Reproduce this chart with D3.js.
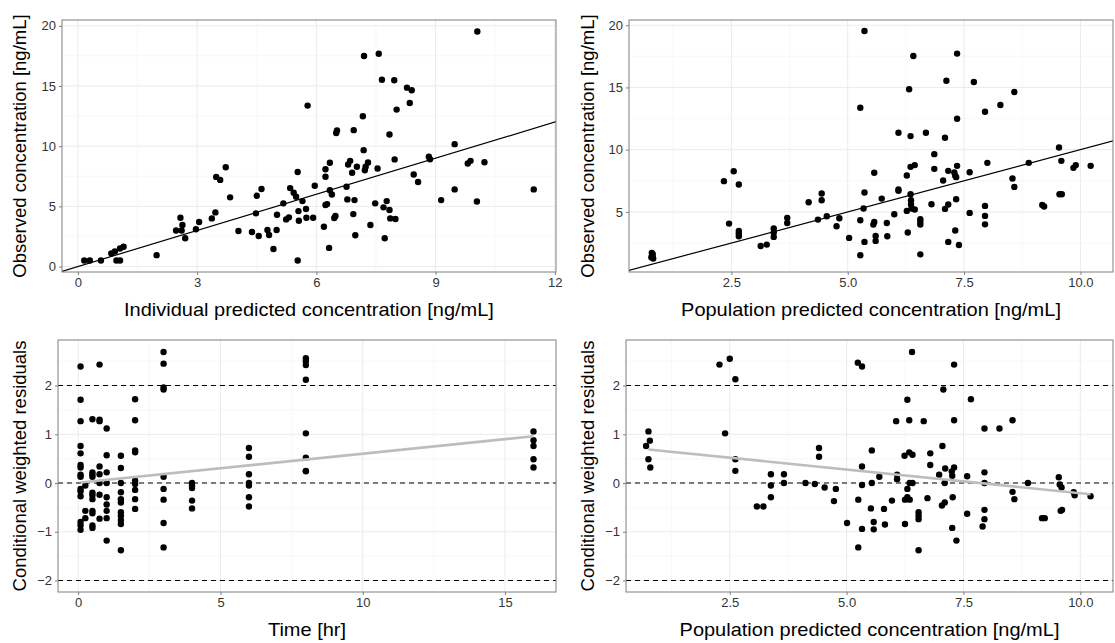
<!DOCTYPE html>
<html><head><meta charset="utf-8">
<script src="https://cdn.jsdelivr.net/npm/d3@7"></script>
<style>
body { margin: 0; background: #fff; }
svg { font-family: "Liberation Sans", Arial, sans-serif; }
.tick text { fill: #333; font-size: 13px; }
</style></head>
<body>
<svg id="chart" width="1115" height="643"></svg>
<script>
// top-left: individual predicted vs observed
const ipredX = [0.16,0.3,0.58,0.84,0.93,0.97,1.06,1.06,1.15,1.98,2.47,2.58,2.61,2.63,2.7,2.97,3.05,3.37,3.46,3.48,3.58,3.72,3.83,4.04,4.38,4.48,4.5,4.55,4.62,4.77,4.81,4.92,5.0,5.01,5.17,5.24,5.31,5.34,5.43,5.49,5.53,5.53,5.55,5.56,5.65,5.74,5.75,5.78,5.92,5.96,6.19,6.23,6.23,6.23,6.27,6.32,6.34,6.34,6.39,6.45,6.48,6.5,6.52,6.76,6.78,6.8,6.85,6.9,6.93,6.94,6.96,6.98,7.02,7.17,7.19,7.2,7.22,7.24,7.3,7.36,7.48,7.54,7.57,7.65,7.69,7.72,7.77,7.84,7.84,7.86,7.96,7.97,7.99,8.02,8.28,8.35,8.4,8.45,8.56,8.83,8.86,9.14,9.48,9.48,9.81,9.88,10.04,10.05,10.23,11.47];
const ipredY = [0.5,0.5,0.5,1.1,1.25,0.5,0.5,1.5,1.65,0.95,3.0,4.05,3.0,3.45,2.35,3.1,3.7,4.0,4.5,7.45,7.2,8.25,5.75,2.95,2.87,4.42,5.88,2.54,6.44,3.04,2.62,1.46,3.04,4.3,5.25,3.92,4.09,6.52,6.13,5.8,0.5,7.85,4.61,3.81,5.44,4.78,4.06,13.37,4.06,6.71,3.31,8.09,7.46,5.11,5.19,1.55,8.62,6.35,5.99,4.03,4.2,11.1,11.3,6.63,5.58,8.48,8.78,7.79,4.36,11.33,5.52,2.6,8.29,12.49,9.67,17.49,8.0,8.29,8.65,3.45,5.25,8.15,17.68,15.52,4.92,2.35,5.44,10.97,4.7,4.0,15.47,8.9,3.95,13.04,14.86,13.59,14.64,7.65,7.02,9.12,8.92,5.52,10.17,6.41,8.56,8.78,5.41,19.53,8.67,6.41];

// top-right: population predicted vs observed
const predX = [0.79,0.8,0.82,0.78,0.81,2.34,2.45,2.55,2.66,2.66,2.66,2.66,3.13,3.26,3.41,3.41,3.41,3.7,3.7,4.16,4.36,4.44,4.44,4.55,4.76,4.82,5.03,5.27,5.27,5.27,5.34,5.36,5.36,5.36,5.55,5.57,5.57,5.6,5.6,5.73,5.84,5.85,6.0,6.09,6.09,6.09,6.27,6.27,6.29,6.32,6.35,6.35,6.35,6.36,6.36,6.37,6.41,6.44,6.44,6.56,6.56,6.56,6.56,6.68,6.8,6.86,6.86,7.05,7.09,7.09,7.12,7.16,7.16,7.16,7.29,7.31,7.31,7.33,7.33,7.35,7.35,7.35,7.39,7.62,7.62,7.71,7.95,7.95,7.95,7.95,8.0,8.28,8.54,8.58,8.58,8.89,9.18,9.22,9.54,9.55,9.6,9.59,9.85,9.9,10.22];
const predY = [1.7,1.45,1.25,1.35,1.6,7.47,4.06,8.27,7.2,3.47,3.26,3.04,2.26,2.37,3.66,3.34,2.99,4.52,4.11,5.78,4.38,6.48,5.94,4.65,3.85,4.49,2.91,13.37,4.33,1.51,5.27,19.54,6.56,2.59,3.98,4.19,8.14,3.07,2.67,6.07,4.11,3.04,4.81,11.36,6.8,6.69,7.92,5.08,3.34,14.85,8.62,6.42,11.09,5.94,5.59,5.27,17.53,8.76,5.19,4.41,4.19,3.98,1.59,11.36,5.62,9.64,8.46,7.52,10.96,5.24,15.54,8.3,5.59,2.59,8.17,7.9,3.5,7.79,6.02,17.72,12.49,8.7,2.34,8.19,4.92,15.44,13.05,5.48,4.68,4.0,8.94,13.59,7.68,7.01,14.63,8.94,5.56,5.43,10.18,6.42,6.42,9.1,8.54,8.76,8.7];

// bottom-left: CWRES vs time
const timeX = [0.083,0.083,0.083,0.083,0.083,0.083,0.083,0.083,0.083,0.083,0.083,0.083,0.083,0.083,0.083,
  0.25,0.25,0.25,
  0.5,0.5,0.5,0.5,0.5,0.5,0.5,0.5,0.5,0.5,0.5,
  0.75,0.75,0.75,0.75,0.75,0.75,0.75,0.75,
  1,1,1,1,1,1,1,1,1,
  1.5,1.5,1.5,1.5,1.5,1.5,1.5,1.5,1.5,1.5,1.5,
  2,2,2,2,2,2,2,2,2,
  3,3,3,3,3,3,3,3,3,
  4,4,4,4,4,
  6,6,6,6,6,6,6,
  8,8,8,8,8,8,8,8,
  16,16,16,16,16];
const timeY = [2.39,1.71,1.27,0.76,0.61,0.37,0.32,0.17,0.13,-0.12,-0.17,-0.27,-0.8,-0.87,-0.96,
  -0.05,-0.57,-0.72,
  1.31,0.22,0.17,0.13,-0.2,-0.25,-0.33,-0.57,-0.62,-0.87,-0.92,
  2.43,1.3,1.27,0.34,0.18,0,-0.24,-0.73,
  1.12,0.57,0.22,0,-0.29,-0.44,-0.57,-0.72,-1.18,
  0.56,0.31,0,-0.19,-0.33,-0.4,-0.6,-0.67,-0.76,-0.84,-1.38,
  1.72,1.29,0.67,0.63,0.05,-0.02,-0.14,-0.33,-0.53,
  2.69,2.45,1.96,1.92,0.13,-0.12,-0.34,-0.82,-1.32,
  0,-0.05,-0.1,-0.36,-0.52,
  0.72,0.54,0.18,0,-0.05,-0.29,-0.48,
  2.56,2.5,2.42,2.12,1.02,0.52,0.25,0.24,
  1.06,0.88,0.76,0.49,0.32];
const timeTrendX = [0.083, 16];
const timeTrendY = [0.01, 0.96];

// bottom-right: CWRES vs population predicted
const cwPredX = [0.71,0.76,0.79,0.76,0.8,2.28,2.5,2.4,2.62,2.62,2.62,3.08,3.22,3.38,3.38,3.38,3.66,3.66,4.12,4.32,4.41,4.41,4.53,4.77,4.73,5.01,5.24,5.33,5.25,5.25,5.33,5.33,5.33,5.54,5.52,5.54,5.58,5.58,5.7,5.8,5.82,5.97,6.06,6.08,6.08,6.24,6.25,6.25,6.3,6.3,6.3,6.34,6.34,6.35,6.35,6.4,6.41,6.41,6.54,6.54,6.54,6.54,6.65,6.73,6.79,6.79,6.98,7.04,7.05,7.07,7.1,7.1,7.11,7.25,7.26,7.26,7.27,7.3,7.3,7.3,7.35,7.58,7.58,7.66,7.91,7.95,7.95,7.95,7.95,7.95,8.27,8.55,8.55,8.59,8.88,9.18,9.24,9.54,9.56,9.6,9.58,9.61,9.86,9.88,10.22];
const cwPredY = [0.76,1.06,0.87,0.49,0.32,2.43,2.55,1.02,2.13,0.49,0.25,-0.48,-0.48,0.18,-0.05,-0.29,0.18,0,0,-0.02,0.72,0.54,-0.09,-0.12,-0.37,-0.82,2.47,2.39,-0.34,-1.32,0.34,-0.04,-0.94,0.67,-0.52,0,-0.8,-0.95,0.13,-0.53,-0.85,-0.36,1.27,0.17,0.08,0.56,-0.34,-0.84,1.71,-0.12,-0.29,1.29,0.63,0,-0.34,2.69,0.58,0,-0.6,-0.67,-0.74,-1.38,1.27,-0.31,0.61,0.37,0.17,-0.46,0.76,1.92,-0.4,0,0.3,0.24,0.15,-0.92,-0.29,2.43,1.29,0.32,-1.18,-0.63,0.14,1.72,-0.89,1.12,0.22,0,-0.55,-0.74,1.12,1.29,-0.18,-0.33,0,-0.72,-0.72,0.12,-0.03,-0.09,-0.57,-0.55,-0.19,-0.25,-0.27];
const cwTrendX = [0.76, 10.22];
const cwTrendY = [0.69, -0.23];

const concTicks = [0, 3, 6, 9, 12];
const obsTicks = [0, 5, 10, 15, 20];
const popTicks = [2.5, 5.0, 7.5, 10.0];
const obs2Ticks = [5, 10, 15, 20];
const timeTicks = [0, 5, 10, 15];
const resTicks = [-2, -1, 0, 1, 2];
const refLines = [-2, 0, 2];

const svg = d3.select("#chart");

function panel(o) {
  const g = svg.append("g");
  const x = d3.scaleLinear().domain(o.xDomain).range([o.left, o.right]);
  const y = d3.scaleLinear().domain(o.yDomain).range([o.bottom, o.top]);
  const clipId = "clip" + Math.round(o.left) + Math.round(o.top);
  g.append("clipPath").attr("id", clipId).append("rect")
    .attr("x", o.left).attr("y", o.top)
    .attr("width", o.right - o.left).attr("height", o.bottom - o.top);

  // minor then major grid
  const minorX = o.xTicks.slice(1).map((t, i) => (t + o.xTicks[i]) / 2);
  const minorY = o.yTicks.slice(1).map((t, i) => (t + o.yTicks[i]) / 2);
  const mx0 = o.xTicks[0] - (o.xTicks[1] - o.xTicks[0]) / 2;
  const my0 = o.yTicks[0] - (o.yTicks[1] - o.yTicks[0]) / 2;
  const mx1 = o.xTicks[o.xTicks.length - 1] + (o.xTicks[1] - o.xTicks[0]) / 2;
  const my1 = o.yTicks[o.yTicks.length - 1] + (o.yTicks[1] - o.yTicks[0]) / 2;
  const grid = g.append("g").attr("clip-path", `url(#${clipId})`);
  grid.selectAll(".mgx").data([mx0, ...minorX, mx1]).enter().append("line")
    .attr("x1", d => x(d)).attr("x2", d => x(d)).attr("y1", o.top).attr("y2", o.bottom)
    .attr("stroke", "#f4f4f4").attr("stroke-width", 0.6);
  grid.selectAll(".mgy").data([my0, ...minorY, my1]).enter().append("line")
    .attr("y1", d => y(d)).attr("y2", d => y(d)).attr("x1", o.left).attr("x2", o.right)
    .attr("stroke", "#f4f4f4").attr("stroke-width", 0.6);
  grid.selectAll(".gx").data(o.xTicks).enter().append("line")
    .attr("x1", d => x(d)).attr("x2", d => x(d)).attr("y1", o.top).attr("y2", o.bottom)
    .attr("stroke", "#ebebeb").attr("stroke-width", 1);
  grid.selectAll(".gy").data(o.yTicks).enter().append("line")
    .attr("y1", d => y(d)).attr("y2", d => y(d)).attr("x1", o.left).attr("x2", o.right)
    .attr("stroke", "#ebebeb").attr("stroke-width", 1);

  const plot = g.append("g").attr("clip-path", `url(#${clipId})`);
  if (o.hlines) {
    plot.selectAll(".hl").data(o.hlines).enter().append("line")
      .attr("x1", o.left).attr("x2", o.right)
      .attr("y1", d => y(d)).attr("y2", d => y(d))
      .attr("stroke", "#000").attr("stroke-width", 1.1).attr("stroke-dasharray", "5,4");
  }
  if (o.identity) {
    const d0 = Math.min(o.xDomain[0], o.yDomain[0]), d1 = Math.max(o.xDomain[1], o.yDomain[1]);
    plot.append("line").attr("x1", x(d0)).attr("y1", y(d0)).attr("x2", x(d1)).attr("y2", y(d1))
      .attr("stroke", "#000").attr("stroke-width", 1.2);
  }
  const pts = o.xs.map((v, i) => [v, o.ys[i]]);
  plot.selectAll("circle").data(pts).enter().append("circle")
    .attr("cx", d => x(d[0])).attr("cy", d => y(d[1])).attr("r", 3.2).attr("fill", "#000");
  if (o.trendX) {
    plot.append("path")
      .datum(o.trendX.map((v, i) => [v, o.trendY[i]]))
      .attr("d", d3.line().x(d => x(d[0])).y(d => y(d[1])))
      .attr("stroke", "#bdbdbd").attr("stroke-width", 2.6).attr("fill", "none");
  }

  g.append("rect").attr("x", o.left).attr("y", o.top)
    .attr("width", o.right - o.left).attr("height", o.bottom - o.top)
    .attr("fill", "none").attr("stroke", "#7f7f7f").attr("stroke-width", 1);

  const xa = g.append("g").attr("transform", `translate(0,${o.bottom})`)
    .call(d3.axisBottom(x).tickValues(o.xTicks).tickSize(3).tickPadding(3)
      .tickFormat(o.xFmt || d3.format("d")));
  const ya = g.append("g").attr("transform", `translate(${o.left},0)`)
    .call(d3.axisLeft(y).tickValues(o.yTicks).tickSize(3).tickPadding(3)
      .tickFormat(d3.format("d")));
  [xa, ya].forEach(a => {
    a.select(".domain").remove();
    a.selectAll(".tick line").attr("stroke", "#7f7f7f");
  });

  // reference text is a little wider than tall: stretch x titles slightly
  const xt = g.append("text").attr("x", (o.left + o.right) / 2).attr("y", o.bottom + 44)
    .attr("text-anchor", "middle").attr("font-size", 18.5).attr("fill", "#000").text(o.xTitle);
  xt.attr("textLength", xt.node().getComputedTextLength() * 1.08)
    .attr("lengthAdjust", "spacingAndGlyphs");
  g.append("text").attr("transform", `translate(${o.yTitleX},${(o.top + o.bottom) / 2}) rotate(-90)`)
    .attr("text-anchor", "middle").attr("font-size", 18.5).attr("fill", "#000").text(o.yTitle);
}

panel({
  left: 62, right: 556, top: 20, bottom: 272,
  xDomain: [-0.4, 12.03], yDomain: [-0.45, 20.48],
  xTicks: concTicks, yTicks: obsTicks,
  xs: ipredX, ys: ipredY, identity: true,
  xTitle: "Individual predicted concentration [ng/mL]",
  yTitle: "Observed concentration [ng/mL]", yTitleX: 26
});
panel({
  left: 629, right: 1113, top: 20, bottom: 272,
  xDomain: [0.3, 10.7], yDomain: [0.17, 20.42],
  xTicks: popTicks, yTicks: obs2Ticks, xFmt: d3.format(".1f"),
  xs: predX, ys: predY, identity: true,
  xTitle: "Population predicted concentration [ng/mL]",
  yTitle: "Observed concentration [ng/mL]", yTitleX: 594
});
panel({
  left: 58, right: 556, top: 340, bottom: 592,
  xDomain: [-0.71, 16.79], yDomain: [-2.235, 2.935],
  xTicks: timeTicks, yTicks: resTicks,
  xs: timeX, ys: timeY, hlines: refLines, trendX: timeTrendX, trendY: timeTrendY,
  xTitle: "Time [hr]",
  yTitle: "Conditional weighted residuals", yTitleX: 26
});
panel({
  left: 626, right: 1113, top: 340, bottom: 592,
  xDomain: [0.28, 10.7], yDomain: [-2.235, 2.935],
  xTicks: popTicks, yTicks: resTicks, xFmt: d3.format(".1f"),
  xs: cwPredX, ys: cwPredY, hlines: refLines, trendX: cwTrendX, trendY: cwTrendY,
  xTitle: "Population predicted concentration [ng/mL]",
  yTitle: "Conditional weighted residuals", yTitleX: 594
});
</script>
</body></html>
